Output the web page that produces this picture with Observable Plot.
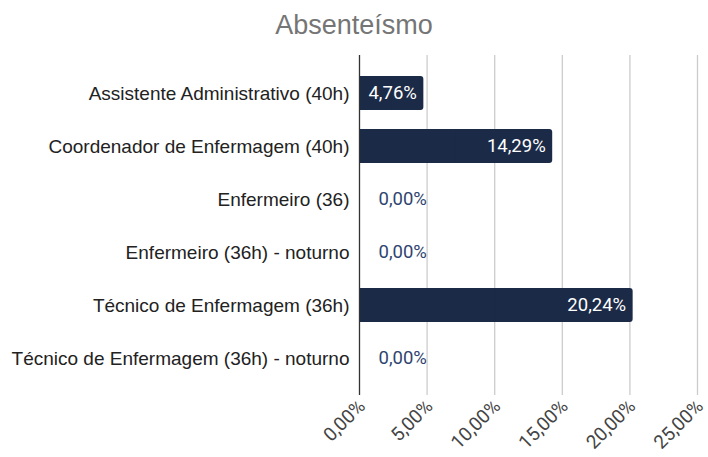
<!DOCTYPE html>
<html><head><meta charset="utf-8">
<script src="https://cdn.jsdelivr.net/npm/d3@7"></script>
<script src="https://cdn.jsdelivr.net/npm/@observablehq/plot@0.6"></script>
<style>
body{margin:0;background:#fff;width:708px;height:457px;overflow:hidden}
#title{height:50px;text-align:center;font:27px "Liberation Sans",Arial,sans-serif;color:#757575;line-height:50px}
#chart svg g[aria-label*="y-axis"] text{font-family:"Liberation Sans",Arial,sans-serif;font-size:19px;fill:#222}
#chart svg g[aria-label*="x-axis"] text{font-family:Roboto,sans-serif;font-size:19px;fill:#444}
#chart svg g[aria-label*="x-axis"]{transform:translate(3px,8px)}
</style></head><body>
<div id="title">Absenteísmo</div>
<div id="chart"></div>
<script>
const categories = [
  "Assistente Administrativo (40h)",
  "Coordenador de Enfermagem (40h)",
  "Enfermeiro (36)",
  "Enfermeiro (36h) - noturno",
  "Técnico de Enfermagem (36h)",
  "Técnico de Enfermagem (36h) - noturno"
];
const values = [0.0476, 0.1429, 0, 0, 0.2024, 0];
const xTicks = [0, 0.05, 0.10, 0.15, 0.20, 0.25];

const fmt = d => d3.format(".2%")(d).replace(".", ",");
const data = categories.map((c, i) => ({cat: c, v: values[i]}));
const barColor = "#1b2a47";

const chart = Plot.plot({
  width: 708,
  height: 407,
  marginLeft: 359,
  marginRight: 11,
  marginTop: 5,
  marginBottom: 62,
  style: {fontFamily: "Roboto, sans-serif", fontSize: "18px", background: "#fff"},
  x: {domain: [0, 0.25], ticks: xTicks, tickFormat: fmt, tickRotate: -45, tickSize: 0, tickPadding: 4, label: null},
  y: {domain: categories, paddingInner: 0.363, paddingOuter: 0.365, tickSize: 0, tickPadding: 10, label: null},
  marks: [
    Plot.ruleX(xTicks.slice(1), {stroke: "#cccccc", strokeWidth: 1.3}),
    Plot.barX(data, {x: "v", y: "cat", fill: barColor, rx: 3}),
    Plot.barX(data, {x1: 0, x2: d => d.v / 2, y: "cat", fill: barColor}),
    Plot.ruleX([0], {stroke: "#333", strokeWidth: 1.3}),
    Plot.text(data.filter(d => d.v > 0), {x: "v", y: "cat", text: d => fmt(d.v), textAnchor: "end", dx: -7, fill: "#fff", fontSize: 18.5, fontFamily: "Roboto"}),
    Plot.text(data.filter(d => d.v === 0), {x: "v", y: "cat", text: d => fmt(d.v), textAnchor: "start", dx: 19, fill: "#2f4470", fontSize: 18.5, fontFamily: "Roboto"})
  ]
});
document.getElementById("chart").appendChild(chart);
</script>
</body></html>
